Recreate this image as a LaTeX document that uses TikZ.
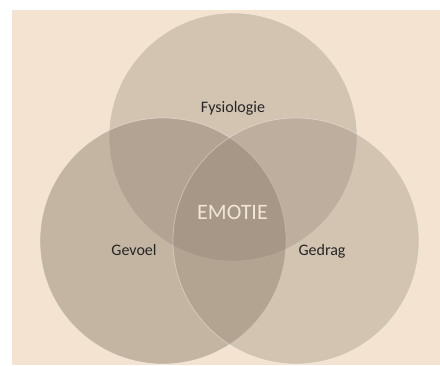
\documentclass[tikz,border=0pt]{standalone}
\usepackage{fontspec}
\setmainfont{Carlito}
\definecolor{paper}{RGB}{243,227,208}
\definecolor{taupe}{RGB}{140,125,110}
\definecolor{labeltext}{RGB}{38,38,38}
\definecolor{corelabel}{RGB}{242,230,214}
\begin{document}
\begin{tikzpicture}[x=1pt,y=1pt,
  petal/.style={fill=taupe,fill opacity=#1,draw=white,draw opacity=0.35,line width=0.8pt},
  setlabel/.style={anchor=base,text=labeltext,font=\fontsize{16}{18}\selectfont},
  corelabelstyle/.style={anchor=base,text=corelabel,font=\fontsize{22}{24}\selectfont}]
  \useasboundingbox (0,0) rectangle (440,365);
  % backdrop
  \fill[paper] (12,0) rectangle (440,355);
  % three overlapping sets
  \path[petal=0.3]  (233,228) circle[radius=124];
  \path[petal=0.45] (163,124) circle[radius=123];
  \path[petal=0.3]  (296,124) circle[radius=123];
  % labels
  \node[setlabel] (fys) at (233,252) {Fysiologie};
  \node[setlabel] (gev) at (134,110) {Gevoel};
  \node[setlabel] (ged) at (322,110) {Gedrag};
  \node[corelabelstyle] (emo) at (232.5,146) {EMOTIE};
\end{tikzpicture}
\end{document}
